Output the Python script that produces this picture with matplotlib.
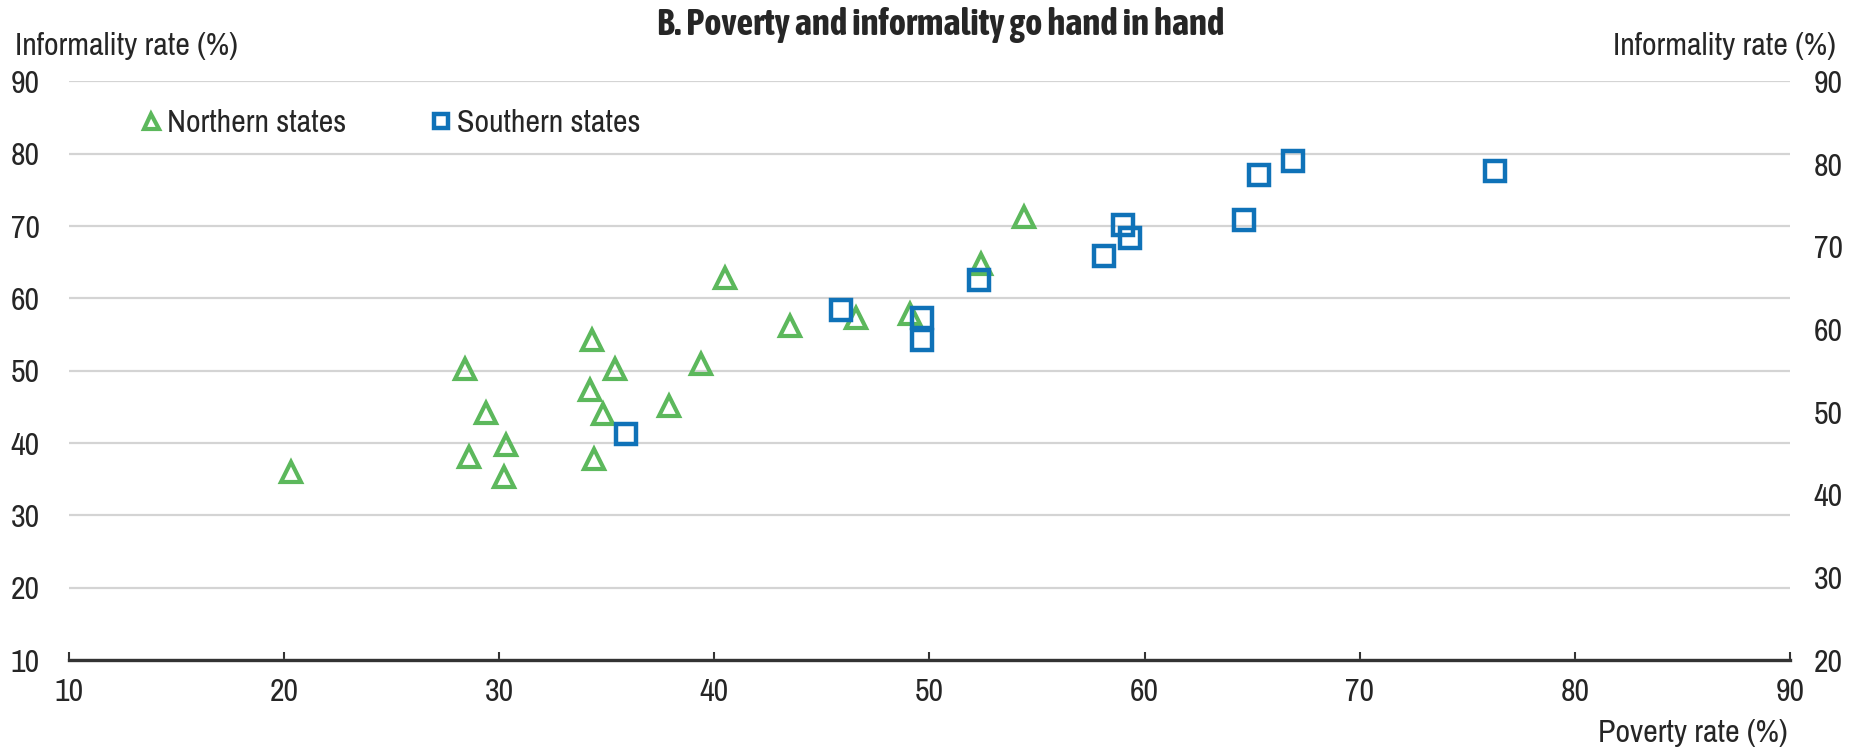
import matplotlib.pyplot as plt

# data
north_poverty = [20.3, 28.4, 29.4, 28.6, 30.3, 30.2, 34.3, 35.4, 34.2, 34.8,
                 34.4, 37.9, 39.4, 40.5, 43.5, 46.6, 49.1, 52.4, 54.4]
north_informal = [36.0, 50.2, 44.1, 38.1, 39.7, 35.3, 54.2, 50.3, 47.3, 44.0,
                  37.8, 45.1, 50.9, 62.8, 56.2, 57.3, 57.9, 64.7, 71.3]

south_poverty = [35.9, 45.9, 49.65, 49.65, 52.3, 58.1, 59.0, 59.3, 64.6, 65.3, 66.9, 76.3]
south_informal = [41.2, 58.4, 57.3, 54.2, 62.5, 65.8, 70.1, 68.4, 70.9, 77.1, 79.0, 77.6]

x_ticks = [10, 20, 30, 40, 50, 60, 70, 80, 90]
left_ticks = [10, 20, 30, 40, 50, 60, 70, 80, 90]
right_ticks = [20, 30, 40, 50, 60, 70, 80, 90]

# narrow faces, falling back to the standard ones if missing
plt.rcParams['font.family'] = ['Archivo Narrow', 'Liberation Sans', 'DejaVu Sans']
title_font = ['Asap Condensed', 'Liberation Sans', 'DejaVu Sans']
fs = 23
text_col = '#262626'
green = '#5cb85c'
blue = '#0f72b8'

fig = plt.figure(figsize=(18.56, 7.49), dpi=100)
ax = fig.add_axes([0.0372, 0.1188, 0.9272, 0.7724])

ax.plot(north_poverty, north_informal, linestyle='none', marker='^', ms=15,
        mfc='none', mec=green, mew=3, label='Northern states', zorder=3)
ax.plot(south_poverty, south_informal, linestyle='none', marker='s', ms=14.5,
        mfc='none', mec=blue, mew=3.2, label='Southern states', zorder=3)

ax.set_xlim(10, 90)
ax.set_ylim(10, 90)
ax.set_xticks(x_ticks)
ax.set_yticks(left_ticks)
ax.yaxis.grid(True, color='#d4d4d4', lw=1.6)
ax.set_axisbelow(True)
for s in ['left', 'right', 'top']:
    ax.spines[s].set_visible(False)
ax.spines['bottom'].set_color('#333333')
ax.spines['bottom'].set_linewidth(2.4)
ax.tick_params(axis='x', direction='in', length=6, width=1.5, color='#333333',
               labelsize=fs, labelcolor=text_col, pad=13)
ax.tick_params(axis='y', length=0, labelsize=fs, labelcolor=text_col, pad=21)

ax2 = ax.twinx()
ax2.set_ylim(20, 90)
ax2.set_yticks(right_ticks)
for s in ['left', 'right', 'top', 'bottom']:
    ax2.spines[s].set_visible(False)
ax2.tick_params(axis='y', length=0, labelsize=fs, labelcolor=text_col, pad=17)

leg = ax.legend(loc='center left', bbox_to_anchor=(0.024, 0.928), ncol=2, frameon=False,
                fontsize=fs, handlelength=0.75, handletextpad=0.12, columnspacing=2.6,
                markerscale=0.72, labelcolor=text_col)

fig.text(0.008, 0.938, 'Informality rate (%)', fontsize=fs, color=text_col, ha='left', va='center')
fig.text(0.989, 0.938, 'Informality rate (%)', fontsize=fs, color=text_col, ha='right', va='center')
fig.text(0.507, 0.966, 'B. Poverty and informality go hand in hand', fontsize=26.5,
         fontweight='bold', family=title_font, color=text_col, ha='center', va='center')
fig.text(0.963, 0.022, 'Poverty rate (%)', fontsize=fs, color=text_col, ha='right', va='center')

fig.savefig('out.png', dpi=100)
